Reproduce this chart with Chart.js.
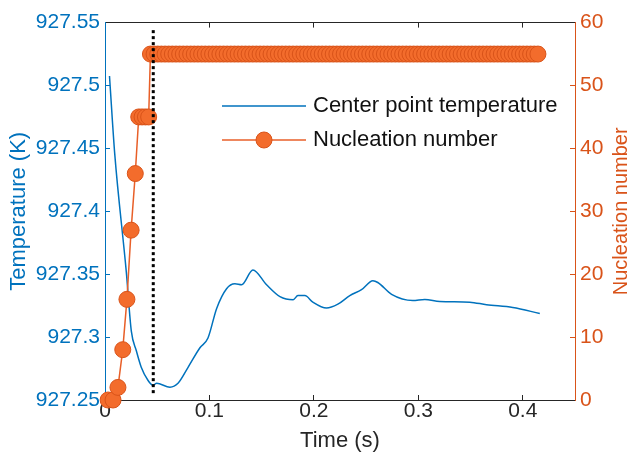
<!DOCTYPE html>
<html>
<head>
<meta charset="utf-8">
<script src="https://cdn.jsdelivr.net/npm/chart.js@4"></script>
<style>
html,body{margin:0;padding:0;background:#fff;}
canvas{display:block;}
</style>
</head>
<body>
<canvas id="c" width="630" height="459"></canvas>
<script>
// center point temperature (K) vs time (s)
const tempTime = [0.0043,0.0093,0.0204,0.0252,0.0300,0.0347,0.0411,0.0459,0.0495,0.0622,0.0699,0.0794,0.0909,0.0986,0.1069,0.1164,0.1244,0.1308,0.1416,0.1547,0.1675,0.1802,0.1847,0.1914,0.1990,0.2121,0.2230,0.2344,0.2456,0.2565,0.2612,0.2744,0.2947,0.3062,0.3206,0.3493,0.3653,0.3904,0.4163];
const tempK = [927.5076,927.4458,927.3518,927.3048,927.2892,927.2761,927.2657,927.2617,927.2633,927.2602,927.2633,927.2758,927.2915,927.2993,927.3228,927.3385,927.3424,927.3416,927.3534,927.3416,927.3322,927.3297,927.3330,927.3330,927.3278,927.3231,927.3262,927.3330,927.3377,927.3448,927.3434,927.3340,927.3291,927.3299,927.3283,927.3278,927.3257,927.3236,927.3187];

// nucleation number vs time (s)
const nucTime = [0.003,0.0077,0.0124,0.017,0.021,0.025,0.029,0.0323,0.0355,0.0387,0.0418,
  0.0435,0.047,0.0505,0.054,0.0575,0.061,0.0645,0.068,0.0715,0.075,0.0785,0.082,0.0855,0.089,0.0925,0.096,0.0995,
  0.103,0.1065,0.11,0.1135,0.117,0.1205,0.124,0.1275,0.131,0.1345,0.138,0.1415,0.145,0.1485,0.152,0.1555,0.159,0.1625,0.166,0.1695,0.173,0.1765,0.18,0.1835,0.187,0.1905,0.194,0.1975,
  0.201,0.2045,0.208,0.2115,0.215,0.2185,0.222,0.2255,0.229,0.2325,0.236,0.2395,0.243,0.2465,0.25,0.2535,0.257,0.2605,0.264,0.2675,0.271,0.2745,0.278,0.2815,0.285,0.2885,0.292,0.2955,0.299,
  0.3025,0.306,0.3095,0.313,0.3165,0.32,0.3235,0.327,0.3305,0.334,0.3375,0.341,0.3445,0.348,0.3515,0.355,0.3585,0.362,0.3655,0.369,0.3725,0.376,0.3795,0.383,0.3865,0.39,0.3935,0.397,
  0.4005,0.404,0.4075,0.411,0.4145,0.418];
const nucCount = [0,0,2,8,16,27,36,45,45,45,45,
  55,55,55,55,55,55,55,55,55,55,55,55,55,55,55,55,55,
  55,55,55,55,55,55,55,55,55,55,55,55,55,55,55,55,55,55,55,55,55,55,55,55,55,55,55,55,
  55,55,55,55,55,55,55,55,55,55,55,55,55,55,55,55,55,55,55,55,55,55,55,55,55,55,55,55,55,
  55,55,55,55,55,55,55,55,55,55,55,55,55,55,55,55,55,55,55,55,55,55,55,55,55,55,55,
  55,55,55,55,55,55];

// dotted marker line
const markTime = [0.0462,0.0462];
const markTemp = [927.544,927.254];

const xTicks = [0,0.1,0.2,0.3,0.4];
const tempTicks = [927.25,927.3,927.35,927.4,927.45,927.5,927.55];
const nucTicks = [0,10,20,30,40,50,60];

const BLUE = '#0072BD', ORANGE = '#D95319', DARK = '#262626', FONT = '"Liberation Sans", Arial, sans-serif';
const pts = (xs, ys) => xs.map((x,i) => ({x, y: ys[i]}));
const setTicks = arr => s => { s.ticks = arr.map(v => ({value: v})); };
const fmt = v => String(Number(v.toFixed(2)));

// MATLAB-like legend inside the axes + right label reading bottom-to-top
const extras = {
  id: 'extras',
  afterDatasetsDraw(chart){
    const ctx = chart.ctx, a = chart.chartArea;
    ctx.save();
    ctx.lineWidth = 1.5;
    ctx.strokeStyle = BLUE; ctx.beginPath(); ctx.moveTo(222,106); ctx.lineTo(306,106); ctx.stroke();
    ctx.strokeStyle = '#E85F28'; ctx.beginPath(); ctx.moveTo(222,140); ctx.lineTo(306,140); ctx.stroke();
    ctx.fillStyle = '#F36C2C'; ctx.strokeStyle = '#D95319'; ctx.lineWidth = 1;
    ctx.beginPath(); ctx.arc(264,140,8,0,Math.PI*2); ctx.fill(); ctx.stroke();
    ctx.fillStyle = '#111'; ctx.font = '22px ' + FONT; ctx.textBaseline = 'middle'; ctx.textAlign = 'left';
    ctx.fillText('Center point temperature', 313, 106);
    ctx.fillText('Nucleation number', 313, 140);
    ctx.translate(621, (a.top + a.bottom) / 2); ctx.rotate(-Math.PI / 2);
    ctx.fillStyle = ORANGE; ctx.font = '20px ' + FONT; ctx.textAlign = 'center';
    ctx.fillText('Nucleation number', 0, 0);
    ctx.restore();
  }
};

new Chart(document.getElementById('c'), {
  type: 'line',
  data: {datasets: [
    {data: pts(markTime, markTemp), yAxisID: 'y', borderColor: '#000', borderWidth: 3, borderDash: [3,3], pointRadius: 0, order: 0},
    {data: pts(nucTime, nucCount), yAxisID: 'y1', borderColor: '#E85F28', borderWidth: 1.5, pointRadius: 8,
      pointBackgroundColor: '#F36C2C', pointBorderColor: '#D95319', pointBorderWidth: 1, clip: false, order: 1},
    {data: pts(tempTime, tempK), yAxisID: 'y', borderColor: BLUE, borderWidth: 1.5, pointRadius: 0,
      cubicInterpolationMode: 'monotone', order: 2}
  ]},
  options: {
    responsive: false, animation: false, devicePixelRatio: 1,
    layout: {padding: 0},
    plugins: {legend: {display: false}, tooltip: {enabled: false}},
    scales: {
      x: {type: 'linear', position: 'bottom', min: 0, max: 0.45, afterBuildTicks: setTicks(xTicks),
        afterFit: s => { s.height = 59; },
        ticks: {color: DARK, font: {family: FONT, size: 21}, padding: 4, callback: v => fmt(v)},
        grid: {drawOnChartArea: false, tickLength: -5, color: DARK},
        border: {color: DARK, width: 1},
        title: {display: true, text: 'Time (s)', color: DARK, font: {family: FONT, size: 22, lineHeight: 1}, padding: {top: 0, bottom: 7}}},
      x2: {type: 'linear', position: 'top', min: 0, max: 0.45, afterBuildTicks: setTicks(xTicks),
        afterFit: s => { s.height = 17; },
        ticks: {display: false},
        grid: {drawOnChartArea: false, tickLength: -5, color: DARK},
        border: {color: DARK, width: 1}},
      y: {type: 'linear', position: 'left', min: 927.25, max: 927.55, afterBuildTicks: setTicks(tempTicks),
        afterFit: s => { s.width = 105; },
        ticks: {color: BLUE, font: {family: FONT, size: 21}, padding: 10, callback: v => fmt(v)},
        grid: {drawOnChartArea: false, tickLength: -5, color: BLUE},
        border: {color: BLUE, width: 1},
        title: {display: true, text: 'Temperature (K)', color: BLUE, font: {family: FONT, size: 22, lineHeight: 1}, padding: {top: 8, bottom: 0}}},
      y1: {type: 'linear', position: 'right', min: 0, max: 60, afterBuildTicks: setTicks(nucTicks),
        afterFit: s => { s.width = 55; },
        ticks: {color: ORANGE, font: {family: FONT, size: 21}, padding: 10},
        grid: {drawOnChartArea: false, tickLength: -5, color: ORANGE},
        border: {color: ORANGE, width: 1}}
    }
  },
  plugins: [extras]
});
</script>
</body>
</html>
